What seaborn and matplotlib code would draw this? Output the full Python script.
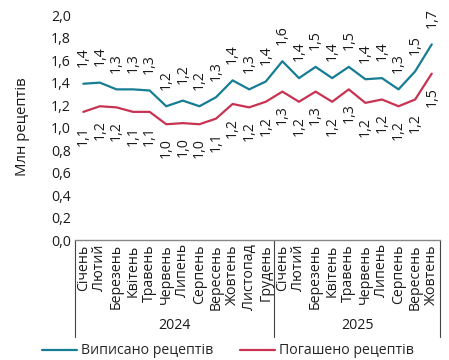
import numpy as np
import pandas as pd
import matplotlib
matplotlib.use("Agg")
import matplotlib.pyplot as plt
from matplotlib.lines import Line2D
import seaborn as sns

months_2024 = ["Січень", "Лютий", "Березень", "Квітень", "Травень", "Червень",
               "Липень", "Серпень", "Вересень", "Жовтень", "Листопад", "Грудень"]
months_2025 = ["Січень", "Лютий", "Березень", "Квітень", "Травень", "Червень",
               "Липень", "Серпень", "Вересень", "Жовтень"]
years = ["2024", "2025"]

written = [1.39, 1.40, 1.34, 1.34, 1.33, 1.19, 1.24, 1.19, 1.27, 1.42, 1.34, 1.41,
           1.59, 1.44, 1.54, 1.44, 1.54, 1.43, 1.44, 1.34, 1.50, 1.74]
redeemed = [1.14, 1.19, 1.18, 1.14, 1.14, 1.03, 1.04, 1.03, 1.08, 1.21, 1.18, 1.23,
            1.32, 1.23, 1.32, 1.23, 1.34, 1.22, 1.25, 1.19, 1.25, 1.48]
series_names = ["Виписано рецептів", "Погашено рецептів"]
colors = ["#167D94", "#C93352"]

months = months_2024 + months_2025
n = len(months)
x = np.arange(n)
df = pd.DataFrame({
    "x": np.tile(x, 2),
    "value": written + redeemed,
    "series": [series_names[0]] * n + [series_names[1]] * n,
})

sns.set_theme(style="white")
plt.rcParams['font.family'] = ['Open Sans', 'DejaVu Sans']
fs = 10.2
txt = "#1a1a1a"

fig = plt.figure(figsize=(4.49, 3.6), dpi=100)
ax = fig.add_axes([0.167, 0.333, 0.813, 0.625])

sns.lineplot(data=df, x="x", y="value", hue="series", palette=colors,
             ax=ax, linewidth=1.6, legend=False)


def fmt(v):
    return f"{v:.1f}".replace(".", ",")


for i in range(n):
    ax.annotate(fmt(written[i]), (x[i], written[i]), xytext=(0, 12),
                textcoords="offset points", rotation=90, ha="center",
                va="bottom", fontsize=fs, color=txt)
    ax.annotate(fmt(redeemed[i]), (x[i], redeemed[i]), xytext=(0, -10),
                textcoords="offset points", rotation=90, ha="center",
                va="top", fontsize=fs, color=txt)

ax.set_xlim(-0.5, n - 0.5)
ax.set_ylim(0, 2.0)
yt = np.arange(0, 2.01, 0.2)
ax.set_yticks(yt)
ax.set_yticklabels([fmt(v) for v in yt], fontsize=fs, color=txt)
ax.set_xticks(x)
ax.set_xticklabels(months, rotation=90, fontsize=fs, color=txt, va="top")
ax.tick_params(axis="both", length=0, pad=3)
ax.set_xlabel("")
ax.set_ylabel("")

for s in ["top", "right", "left"]:
    ax.spines[s].set_visible(False)
ax.spines["bottom"].set_color("#888888")
ax.spines["bottom"].set_linewidth(1.0)

# year groups
trans = ax.get_xaxis_transform()
for xs in [-0.5, len(months_2024) - 0.5, n - 0.5]:
    ax.plot([xs, xs], [0, -0.43], color="#444444", linewidth=0.8,
            transform=trans, clip_on=False)
centers = [(len(months_2024) - 1) / 2, len(months_2024) + (len(months_2025) - 1) / 2]
for c, y in zip(centers, years):
    ax.text(c, -0.378, y, transform=trans, ha="center", va="center",
            fontsize=fs, color=txt)

fig.text(0.05, 1 - 127 / 360, "Млн рецептів", rotation=90, ha="center",
         va="center", fontsize=fs + 0.5, color=txt)

handles = [Line2D([], [], color=c, linewidth=1.6) for c in colors]
fig.legend(handles, series_names, loc="center", bbox_to_anchor=(0.507, 0.025),
           ncol=2, frameon=False, fontsize=fs, handlelength=2.5,
           handletextpad=0.25, columnspacing=1.9)

fig.savefig("out.png", dpi=100)
